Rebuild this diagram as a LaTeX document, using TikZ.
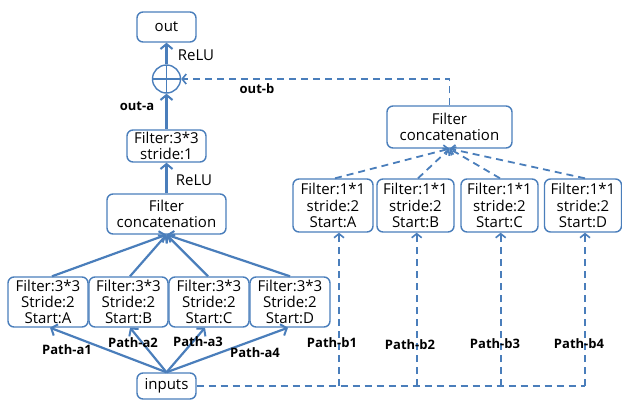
\documentclass[tikz,border=0pt]{standalone}
\usepackage{fontspec}
\setmainfont{Open Sans}
\usetikzlibrary{arrows.meta}
\definecolor{netblue}{HTML}{4A7EBB}
\tikzset{
  box/.style={draw=netblue, line width=1.4pt, rounded corners=6pt, align=center,
    inner sep=0pt, font=\fontsize{15}{16.3}\selectfont},
  conn/.style={draw=netblue, line width=2.2pt, -{Straight Barb[length=5pt,width=12pt,line width=2pt]}},
  dconn/.style={draw=netblue, line width=1.8pt, dash pattern=on 7pt off 5pt,
    -{Straight Barb[length=4pt,width=10pt,line width=1.6pt]}},
  dline/.style={draw=netblue, line width=1.8pt, dash pattern=on 7pt off 5pt},
  lbl/.style={font=\fontsize{13}{15}\selectfont\bfseries, inner sep=0pt},
  relu/.style={font=\fontsize{15}{16}\selectfont, inner sep=0pt},
}
\begin{document}
\begin{tikzpicture}[x=1pt,y=-1pt]
\useasboundingbox (0,0) rectangle (622,400);

% main branch
\node[box, minimum width=59pt, minimum height=30pt] (out) at (166.5,27) {out};
\node[draw=netblue, line width=1.4pt, circle, minimum size=28pt, inner sep=0pt,
  path picture={\draw[netblue, line width=1.4pt]
    (path picture bounding box.north) -- (path picture bounding box.south)
    (path picture bounding box.west) -- (path picture bounding box.east);}] (sum) at (166.5,79) {};
\node[box, minimum width=79pt, minimum height=32pt] (conv1) at (166.5,146) {Filter:3*3\\stride:1};
\node[box, minimum width=119pt, minimum height=40pt] (catA) at (166.5,214) {Filter\\concatenation};

\node[box, minimum width=80pt, minimum height=50pt] (a1) at (48,302) {Filter:3*3\\Stride:2\\Start:A};
\node[box, minimum width=79pt, minimum height=50pt] (a2) at (128.5,302) {Filter:3*3\\Stride:2\\Start:B};
\node[box, minimum width=80pt, minimum height=50pt] (a3) at (209,302) {Filter:3*3\\Stride:2\\Start:C};
\node[box, minimum width=80pt, minimum height=50pt] (a4) at (290,302) {Filter:3*3\\Stride:2\\Start:D};

\node[box, minimum width=59pt, minimum height=26pt] (in) at (166.5,386) {inputs};

% side branch
\node[box, minimum width=125pt, minimum height=42pt] (catB) at (449.5,127) {Filter\\concatenation};
\node[box, minimum width=80pt, minimum height=53pt] (b1) at (333,205.5) {Filter:1*1\\stride:2\\Start:A};
\node[box, minimum width=77pt, minimum height=53pt] (b2) at (415.5,205.5) {Filter:1*1\\stride:2\\Start:B};
\node[box, minimum width=77pt, minimum height=53pt] (b3) at (499.5,205.5) {Filter:1*1\\stride:2\\Start:C};
\node[box, minimum width=77pt, minimum height=53pt] (b4) at (583,205.5) {Filter:1*1\\stride:2\\Start:D};

% solid connectors
\draw[conn] (in.north) -- ([xshift=2pt]a1.south);
\draw[conn] (in.north) -- ([xshift=1.5pt]a2.south);
\draw[conn] (in.north) -- ([xshift=-4pt]a3.south);
\draw[conn] (in.north) -- ([xshift=-2pt]a4.south);
\draw[conn] ([xshift=4pt]a1.north) -- (catA.south);
\draw[conn] ([xshift=1.5pt]a2.north) -- (catA.south);
\draw[conn] ([xshift=-1pt]a3.north) -- (catA.south);
\draw[conn] (a4.north) -- (catA.south);
\draw[conn] (catA.north) -- (conv1.south);
\draw[conn] (conv1.north) -- (sum.south);
\draw[conn] (sum.north) -- (out.south);

% dashed connectors
\coordinate (p1) at (339,386);
\coordinate (p2) at (416.7,386);
\coordinate (p3) at (500.7,386);
\coordinate (p4) at (585,386);
\draw[dline] (in.east) -- (p4);
\foreach \i/\b in {1/b1,2/b2,3/b3,4/b4}
  \draw[dconn] (p\i) -- (p\i |- \b.south);
\draw[dconn] ([xshift=2pt]b1.north) -- (catB.south);
\draw[dconn] ([xshift=2.5pt]b2.north) -- (catB.south);
\draw[dconn] ([xshift=0.5pt]b3.north) -- (catB.south);
\draw[dconn] ([xshift=2pt]b4.north) -- (catB.south);
\coordinate (turn) at (449.5,79);
\draw[dconn] (catB.north) -- (turn) -- (sum.east);

% labels
\node[relu] (r1) at (196,55) {ReLU};
\node[relu] (r2) at (194,180) {ReLU};
\node[lbl] (oa) at (137,106) {out-a};
\node[lbl] (ob) at (257,89) {out-b};
\node[lbl] (la1) at (67,350) {Path-a1};
\node[lbl] (la2) at (133,343) {Path-a2};
\node[lbl] (la3) at (198,342) {Path-a3};
\node[lbl] (la4) at (255,353) {Path-a4};
\node[lbl] (lb1) at (332,343) {Path-b1};
\node[lbl] (lb2) at (410,345) {Path-b2};
\node[lbl] (lb3) at (495,344) {Path-b3};
\node[lbl] (lb4) at (579,344) {Path-b4};
\end{tikzpicture}
\end{document}
